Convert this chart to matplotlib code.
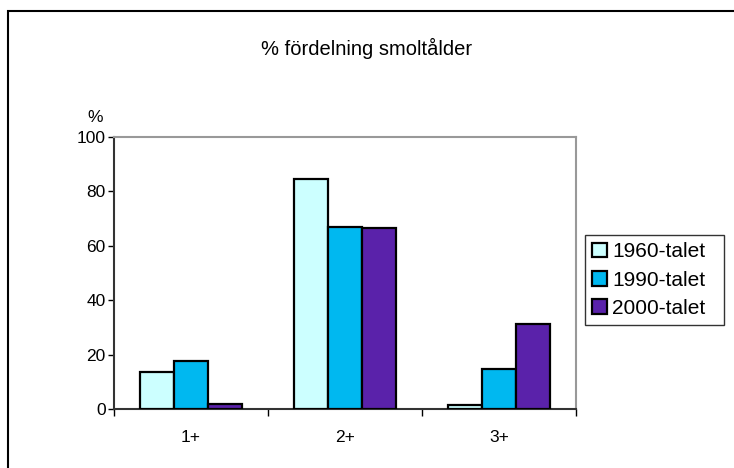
import matplotlib
matplotlib.use('Agg')
import matplotlib.pyplot as plt
import matplotlib.patches as patches
import numpy as np

plt.rcParams['font.family'] = ['Liberation Sans', 'DejaVu Sans']

# data
categories = ['1+', '2+', '3+']
series_names = ['1960-talet', '1990-talet', '2000-talet']
v1960 = [13.6, 84.7, 1.6]
v1990 = [17.8, 67.0, 14.8]
v2000 = [1.9, 66.6, 31.2]
colors = ['#CCFFFF', '#00B8F0', '#5A22AA']

fig = plt.figure(figsize=(7.34, 4.68), dpi=100)
ax = fig.add_axes([114 / 734, 1 - 409 / 468, 462 / 734, 272 / 468])

x = np.arange(len(categories))
width = 0.22
allValues = [v1960, v1990, v2000]
for i in range(len(allValues)):
    ax.bar(x + (i - 1) * width, allValues[i], width, color=colors[i],
           edgecolor='black', linewidth=1.6, label=series_names[i], zorder=3)

ax.set_xlim(-0.5, 2.5)
ax.set_ylim(0, 100)
ax.set_yticks([0, 20, 40, 60, 80, 100])
ax.tick_params(axis='y', direction='out', length=4, width=1, labelsize=12.5, pad=2)

ax.set_xticks(x)
ax.set_xticklabels(categories)
ax.tick_params(axis='x', which='major', length=0, labelsize=12.5, pad=15)
ax.set_xticks([-0.5, 0.5, 1.5, 2.5], minor=True)
ax.tick_params(axis='x', which='minor', direction='out', length=5, width=1)

ax.spines['left'].set_color('#333333')
ax.spines['bottom'].set_color('#333333')
ax.spines['top'].set_color('#999999')
ax.spines['right'].set_color('#999999')
for s in ax.spines.values():
    s.set_linewidth(1.5)

fig.text(367 / 734, 1 - 48 / 468, '% fördelning smoltålder', ha='center', va='center', fontsize=14.5)
fig.text(95 / 734, 1 - 118 / 468, '%', ha='center', va='center', fontsize=12.5)

# legend box roughly x 585..724, y 232..328 (pixels from top)
leg = ax.legend(loc='center', bbox_to_anchor=(585 / 734, 1 - 328 / 468, 139 / 734, 96 / 468),
                bbox_transform=fig.transFigure, mode='expand', fontsize=15, frameon=True,
                fancybox=False, edgecolor='black', handlelength=0.7, handleheight=0.7,
                handletextpad=0.25, borderpad=0.35, labelspacing=0.45, borderaxespad=0)
leg.get_frame().set_linewidth(1.0)

# outer chart border
border = patches.Rectangle((8 / 734, -0.05), 1.0, 1 - 11 / 468 + 0.05, transform=fig.transFigure,
                           fill=False, edgecolor='black', linewidth=1.5, clip_on=False)
fig.patches.append(border)

fig.savefig('out.png', dpi=100)
